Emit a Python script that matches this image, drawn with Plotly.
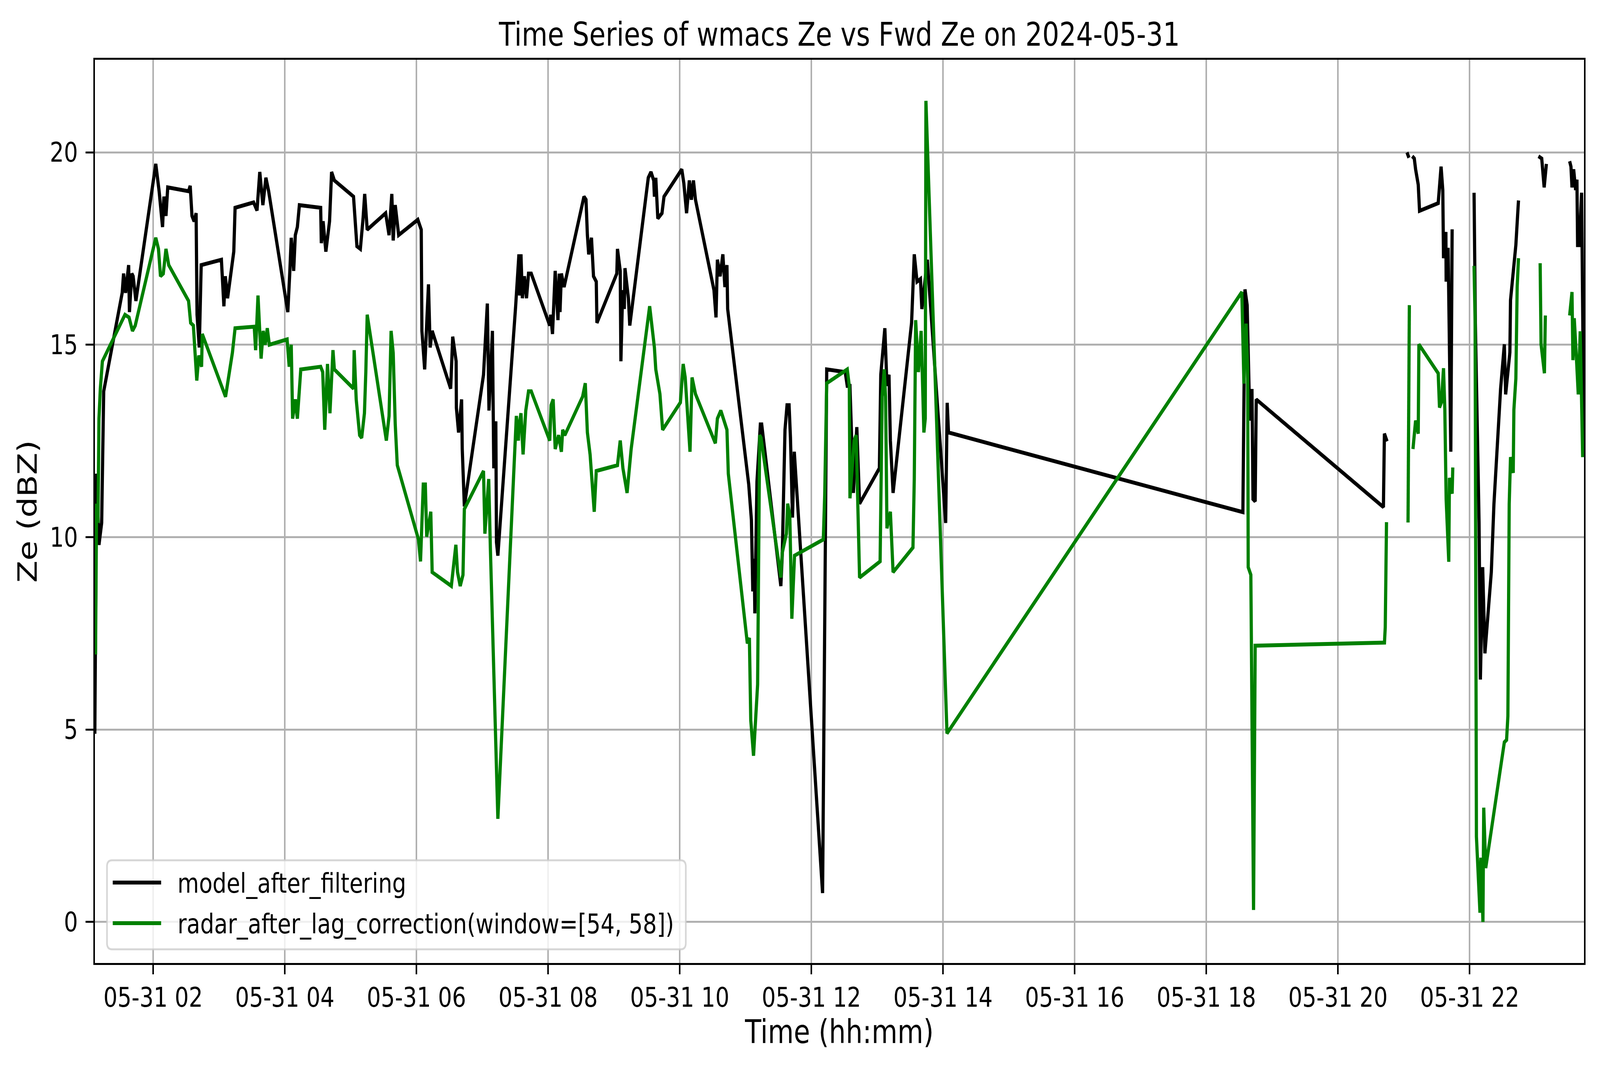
import pandas as pd
import plotly.graph_objects as go

DAY = "2024-05-31"

# decimal hour of day and Ze (dBZ); None = gap in the record
model_hours = [
    1.114, 1.141, 1.177, 1.218, 1.249, 1.530, 1.551, 1.582, 1.628, 1.640, 1.676, 1.696, 1.738,
    2.040, 2.091, 2.143, 2.164, 2.195, 2.222, 2.538, 2.563, 2.590, 2.622, 2.653, 2.667, 2.701, 2.730,
    3.037, 3.075, 3.096, 3.131, 3.225, 3.245, 3.526, 3.578, 3.620, 3.667, 3.713, 3.755,
    4.046, 4.077, 4.098, 4.135, 4.160, 4.191, 4.222, 4.545, 4.555, 4.582, 4.624, 4.680, 4.711, 4.753,
    5.044, 5.096, 5.148, 5.189, 5.214, 5.252, 5.532, 5.584, 5.626, 5.647, 5.678, 5.730,
    6.021, 6.073, 6.083, 6.125, 6.183, 6.208, 6.239, 6.520, 6.551, 6.603, 6.607, 6.640, 6.686, 6.696, 6.728,
    7.019, 7.077, 7.102, 7.154, 7.175, 7.206, 7.216, 7.237, 7.507, 7.538, 7.557, 7.568, 7.588, 7.609,
    7.640, 7.672, 7.703, 7.744,
    8.025, 8.040, 8.067, 8.108, 8.150, 8.170, 8.181, 8.202, 8.243, 8.545, 8.576, 8.597, 8.617, 8.659,
    8.690, 8.732, 8.742,
    9.044, 9.054, 9.096, 9.106, 9.133, 9.158, 9.168, 9.220, 9.241, 9.522, 9.563, 9.605, 9.615, 9.636,
    9.667, 9.730, 9.761,
    10.031, 10.062, 10.104, 10.146, 10.177, 10.208, 10.239, 10.520, 10.551, 10.572, 10.613, 10.655,
    10.686, 10.717, 10.728,
    11.048, 11.089, 11.110, 11.131, 11.141, 11.173, 11.225, 11.245, 11.536, 11.557, 11.599, 11.630,
    11.661, 11.682, 11.713, 11.740,
    12.170, 12.233, 12.514, 12.545, 12.586, 12.638, 12.690, 12.732,
    13.033, 13.054, 13.116, 13.148, 13.179, 13.200, 13.241, 13.522, 13.563, 13.605, 13.657, 13.678, 13.761,
    14.040, 14.063, 14.083,
    18.555, 18.587, 18.620, 18.660, 18.693, 18.709, 18.742, 18.758,
    20.690, 20.705, 20.745, 20.900,
    21.048, 21.078, 21.100,
    21.128, 21.159, 21.179, 21.219, 21.239, 21.522, 21.538, 21.566, 21.592, 21.603, 21.639, 21.643,
    21.673, 21.714, 21.734, 21.900,
    22.067, 22.087, 22.143, 22.163, 22.198, 22.232, 22.329, 22.369, 22.470, 22.527, 22.547, 22.611,
    22.621, 22.648, 22.672, 22.702, 22.742, 22.900,
    23.045, 23.095, 23.132, 23.166, 23.300,
    23.519, 23.539, 23.555, 23.580, 23.610, 23.630, 23.640, 23.664, 23.701, 23.717, 23.737,
]
model_ze = [
    4.89, 11.65, 9.80, 10.37, 13.79, 16.35, 16.85, 16.35, 17.07, 15.85, 16.85, 16.78, 16.14,
    19.70, 18.99, 18.06, 18.85, 18.35, 19.09, 18.99, 19.13, 18.35, 18.21, 18.42, 15.78, 14.93, 17.07,
    17.21, 16.00, 16.78, 16.21, 17.42, 18.56, 18.70, 18.49, 19.49, 18.63, 19.34, 18.99,
    15.85, 16.92, 17.78, 16.92, 17.85, 18.06, 18.63, 18.56, 17.64, 18.21, 17.42, 18.21, 19.49, 19.27,
    18.85, 17.56, 17.49, 18.28, 18.92, 17.99, 18.42, 17.85, 18.92, 17.71, 18.63, 17.85,
    18.25, 17.99, 15.36, 14.36, 16.57, 14.93, 15.36, 13.86, 15.21, 14.57, 13.36, 12.72, 13.58, 12.29, 10.80,
    14.22, 16.07, 13.29, 15.36, 11.79, 13.01, 9.87, 9.52, 16.00, 16.99, 17.35, 16.28, 17.35, 16.21,
    16.78, 16.21, 16.85, 16.85,
    15.50, 15.78, 15.28, 16.92, 15.64, 16.85, 15.85, 16.85, 16.50, 18.85, 18.77, 17.85, 17.35, 17.78,
    16.78, 16.64, 15.57,
    16.85, 17.49, 16.92, 14.57, 16.42, 15.93, 16.99, 16.21, 15.50, 19.34, 19.49, 19.27, 18.85, 19.34,
    18.28, 18.42, 18.85,
    19.56, 19.20, 18.42, 19.27, 18.77, 19.27, 18.77, 16.42, 15.71, 17.21, 16.78, 17.35,
    16.50, 17.07, 15.93,
    11.37, 10.44, 8.59, 9.44, 8.02, 11.44, 12.93, 12.93, 8.73, 9.52, 12.79, 13.43,
    13.43, 12.58, 10.51, 12.22,
    0.75, 14.36, 14.29, 13.93, 13.93, 11.15, 12.86, 10.87,
    11.79, 14.22, 15.43, 13.93, 14.22, 12.51, 11.15, 15.57, 17.35, 16.64, 16.71, 15.93, 17.21,
    10.37, 13.49, 12.72,
    10.65, 16.44, 16.03, 13.03, 13.85, 10.99, 10.93, 13.58,
    10.78, 12.69, 12.49, None,
    20.00, 19.86, None,
    19.90, 19.84, 19.56, 19.16, 18.48, 18.68, 19.02, 19.63, 19.02, 17.25, 17.93, 16.64,
    17.52, 12.22, 18.00, None,
    18.95, 15.55, 10.38, 6.30, 9.22, 6.98, 9.09, 10.86, 13.85, 15.01, 13.71, 14.80,
    16.16, 16.64, 17.18, 17.59, 18.75, None,
    19.90, 19.84, 19.09, 19.70, None,
    19.77, 19.63, 19.09, 19.56, 19.02, 19.29, 17.59, 17.59, 18.95, 16.10, 12.15,
]

radar_hours = [
    1.125, 1.141, 1.162, 1.177, 1.198, 1.229, 1.572, 1.634, 1.686, 1.728,
    2.040, 2.081, 2.112, 2.154, 2.195, 2.237, 2.538, 2.570, 2.611, 2.663, 2.694, 2.736, 2.746,
    3.048, 3.100, 3.204, 3.245, 3.536, 3.557, 3.593, 3.640, 3.672, 3.703, 3.734, 3.765,
    4.035, 4.067, 4.098, 4.119, 4.160, 4.191, 4.243, 4.545, 4.576, 4.607, 4.649, 4.686, 4.732, 4.753,
    5.044, 5.054, 5.085, 5.137, 5.168, 5.210, 5.231, 5.252, 5.543, 5.584, 5.615, 5.647, 5.678, 5.709,
    6.031, 6.062, 6.104, 6.135, 6.156, 6.218, 6.239, 6.530, 6.599, 6.624, 6.665, 6.707, 6.728,
    7.019, 7.040, 7.098, 7.123, 7.154, 7.195, 7.237, 7.518, 7.549, 7.557, 7.588, 7.620, 7.661, 7.703, 7.744,
    8.025, 8.046, 8.077, 8.108, 8.160, 8.202, 8.222, 8.254, 8.524, 8.565, 8.597, 8.638, 8.701, 8.732,
    9.054, 9.096, 9.137, 9.200, 9.262, 9.543, 9.615, 9.636, 9.699, 9.740,
    10.010, 10.052, 10.083, 10.156, 10.187, 10.239, 10.541, 10.572, 10.624, 10.676, 10.717, 10.738,
    11.027, 11.058, 11.079, 11.121, 11.183, 11.214, 11.235, 11.536, 11.557, 11.620, 11.640, 11.672,
    11.703, 11.744,
    12.181, 12.202, 12.233, 12.545, 12.576, 12.586, 12.649, 12.680, 12.732,
    13.044, 13.075, 13.106, 13.127, 13.148, 13.200, 13.241, 13.543, 13.563, 13.584, 13.626, 13.667,
    13.709, 13.730, 13.740,
    14.060,
    18.539, 18.571, 18.603, 18.628, 18.636, 18.676, 18.717, 18.742,
    20.706, 20.718, 20.737, 20.900,
    21.064, 21.084, 21.110,
    21.139, 21.179, 21.219, 21.229, 21.522, 21.542, 21.572, 21.603, 21.623, 21.633, 21.643, 21.683,
    21.693, 21.734, 21.744, 21.900,
    22.067, 22.083, 22.103, 22.157, 22.171, 22.202, 22.214, 22.244, 22.527, 22.561, 22.581, 22.587,
    22.601, 22.621, 22.662, 22.672, 22.702, 22.722, 22.742, 22.900,
    23.071, 23.085, 23.136, 23.150, 23.300,
    23.519, 23.555, 23.569, 23.589, 23.620, 23.650, 23.680, 23.717,
]
radar_ze = [
    6.95, 10.87, 10.37, 13.08, 13.86, 14.57, 15.78, 15.71, 15.36, 15.50,
    17.78, 17.49, 16.78, 16.85, 17.49, 17.07, 16.14, 15.57, 15.50, 14.07, 14.72, 14.43, 15.28,
    13.93, 13.65, 14.79, 15.43, 15.47, 14.86, 16.28, 14.64, 15.36, 15.00, 15.43, 15.00,
    15.14, 14.43, 15.00, 13.08, 13.58, 13.08, 14.36, 14.43, 14.29, 12.79, 14.50, 13.22, 14.86, 14.36,
    13.86, 14.86, 13.58, 12.65, 12.58, 13.22, 14.29, 15.78, 12.51, 13.15, 15.36, 14.79, 12.93, 11.87,
    9.94, 9.37, 11.37, 11.37, 10.01, 10.66, 9.09, 8.73, 9.80, 9.09, 8.73, 9.02, 10.73,
    11.72, 10.09, 11.51, 9.73, 7.95, 5.10, 2.68, 13.15, 12.51, 12.86, 13.22, 12.15, 13.29, 13.79, 13.79,
    12.51, 13.43, 13.58, 12.29, 12.65, 12.22, 12.79, 12.65, 13.65, 14.00, 12.72, 12.15, 10.66, 11.72,
    11.87, 12.51, 11.79, 11.15, 12.29, 16.00, 14.93, 14.36, 13.72, 12.79,
    13.50, 14.50, 14.15, 12.22, 14.15, 13.72, 12.44, 13.08, 13.29, 13.01, 12.79, 11.65,
    7.24, 7.38, 5.24, 4.32, 6.17, 12.65, 12.58, 8.95, 9.59, 10.09, 10.87, 10.58,
    7.88, 9.52,
    9.94, 11.08, 14.00, 14.36, 13.93, 11.01, 12.51, 12.65, 8.95,
    9.37, 13.65, 14.36, 13.65, 10.23, 10.66, 9.09, 9.73, 11.51, 15.64, 14.29, 15.36,
    12.72, 13.08, 21.34,
    4.90,
    16.37, 13.99, 15.55, 14.39, 9.22, 9.02, 0.31, 7.18,
    7.26, 7.66, 10.39, None,
    10.38, 16.03, None,
    12.29, 13.03, 12.69, 15.01, 14.26, 13.37, 13.51, 14.39, 13.31, 11.61, 10.99, 9.36,
    11.54, 11.13, 11.81, None,
    17.05, 15.62, 2.22, 0.24, 1.67, 0.00, 2.97, 1.40, 4.67, 4.73, 5.35, 9.22,
    10.86, 12.08, 11.67, 13.31, 14.12, 16.50, 17.25, None,
    17.12, 15.01, 14.26, 15.76, None,
    15.76, 16.37, 14.60, 15.69, 14.73, 13.71, 15.35, 12.08,
]

model_name = "model_after_filtering"
radar_name = "radar_after_lag_correction(window=[54, 58])"
title_text = "Time Series of wmacs Ze vs Fwd Ze on 2024-05-31"
y_ticks = [0, 5, 10, 15, 20]

W, H = 4995, 2740
ML, MR, MT, MB = 296, 50, 153, 274
FONT = "DejaVu Sans"


def to_time(hours):
    return pd.Timestamp(DAY) + pd.to_timedelta(hours, unit="h")


def px_x(x):
    return (x - ML) / (W - ML - MR)


def px_y(y):
    return (H - MB - y) / (H - MT - MB)


model_t = to_time(model_hours)
radar_t = to_time(radar_hours)

# same limits matplotlib gave: x tight on the data, y with 5% margins
x_lo, x_hi = model_t.min(), model_t.max()
vals = [v for v in model_ze + radar_ze if v is not None]
pad = 0.05 * (max(vals) - min(vals))

fig = go.Figure()
fig.add_trace(go.Scatter(x=model_t, y=model_ze, mode="lines", name=model_name,
                         line=dict(color="#000000", width=10), showlegend=False))
fig.add_trace(go.Scatter(x=radar_t, y=radar_ze, mode="lines", name=radar_name,
                         line=dict(color="#008000", width=10), showlegend=False))

axis_common = dict(
    showline=True, mirror=True, linecolor="black", linewidth=5,
    ticks="outside", ticklen=24, tickwidth=5, tickcolor="black",
    showgrid=True, gridcolor="#b0b0b0", gridwidth=5, zeroline=False,
    tickfont=dict(family=FONT, size=69, color="black"),
)

fig.update_xaxes(
    range=[x_lo, x_hi], tick0=DAY + " 00:00", dtick=2 * 3600 * 1000, tickformat="%m-%d %H",
    title=dict(text="Time (hh:mm)", font=dict(family=FONT, size=83, color="black"), standoff=20),
    ticklabelstandoff=0, **axis_common,
)
fig.update_yaxes(
    range=[min(vals) - pad, max(vals) + pad], tickvals=y_ticks,
    title=dict(text="Ze (dBZ)", font=dict(family=FONT, size=83, color="black"), standoff=14),
    ticklabelstandoff=10, **axis_common,
)

# legend drawn by hand so the line samples keep matplotlib's length
lx0, lx1, ly0, ly1, r = 334, 2141, 2203, 2431, 16
rx, ry = r / (W - ML - MR), r / (H - MT - MB)
a, b, c, d = px_x(lx0), px_x(lx1), px_y(ly1), px_y(ly0)
box = (f"M{a + rx},{c} L{b - rx},{c} Q{b},{c} {b},{c + ry} L{b},{d - ry} Q{b},{d} {b - rx},{d} "
       f"L{a + rx},{d} Q{a},{d} {a},{d - ry} L{a},{c + ry} Q{a},{c} {a + rx},{c} Z")
shapes = [dict(type="path", path=box, xref="paper", yref="paper", layer="above",
               fillcolor="rgba(255,255,255,0.8)", line=dict(color="rgba(204,204,204,0.8)", width=5))]
annotations = []
for name, color, yy in [(model_name, "#000000", 2260), (radar_name, "#008000", 2364)]:
    shapes.append(dict(type="line", xref="paper", yref="paper", layer="above",
                       x0=px_x(352), x1=px_x(503), y0=px_y(yy), y1=px_y(yy),
                       line=dict(color=color, width=10)))
    annotations.append(dict(text=name, xref="paper", yref="paper", x=px_x(552), y=px_y(yy + 2),
                            xanchor="left", yanchor="middle", showarrow=False,
                            font=dict(family=FONT, size=69, color="black")))

fig.update_layout(
    width=W, height=H, autosize=False,
    margin=dict(l=ML, r=MR, t=MT, b=MB),
    paper_bgcolor="white", plot_bgcolor="white",
    title=dict(text=title_text, x=0.5, xref="paper", xanchor="center",
               y=1 - 88 / H, yref="container", yanchor="middle",
               font=dict(family=FONT, size=83, color="black")),
    shapes=shapes, annotations=annotations,
    font=dict(family=FONT, color="black"),
)

# the browser window may not be exactly W x H: stretch the drawn figure onto it
fit = (
    "var gd = document.querySelector('.plotly-graph-div');"
    "var st = document.documentElement.style, bs = document.body.style;"
    "st.margin = '0'; bs.margin = '0'; st.overflow = 'hidden'; bs.overflow = 'hidden';"
    f"var sx = window.innerWidth / {W}, sy = window.innerHeight / {H};"
    "gd.style.transformOrigin = '0 0';"
    "if (Math.abs(sx - 1) > 0.002 || Math.abs(sy - 1) > 0.002)"
    " gd.style.transform = 'scale(' + sx + ',' + sy + ')';"
)
fig.write_html("out.html", config={"displayModeBar": False}, post_script=fit)
